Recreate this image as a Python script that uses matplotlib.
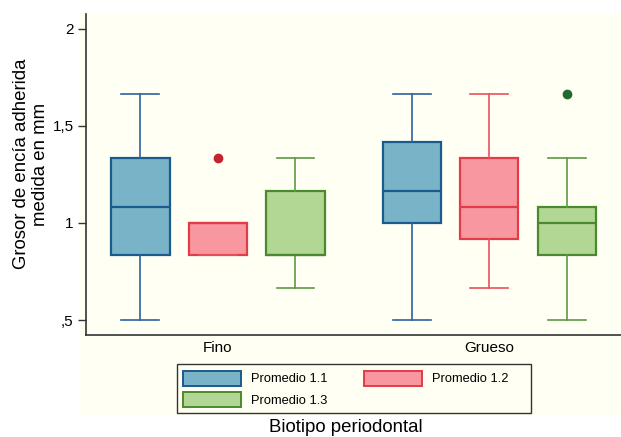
import matplotlib.pyplot as plt
from matplotlib.patches import Patch, Rectangle

plt.rcParams['font.family'] = ['Liberation Sans', 'DejaVu Sans']

groups = ['Fino', 'Grueso']
series = ['Promedio 1.1', 'Promedio 1.2', 'Promedio 1.3']

# box statistics, order: Fino 1.1, 1.2, 1.3, Grueso 1.1, 1.2, 1.3
whislo = [0.5, 0.833, 0.667, 0.5, 0.667, 0.5]
q1 = [0.833, 0.833, 0.833, 1.0, 0.917, 0.833]
med = [1.083, 1.0, 0.833, 1.167, 1.083, 1.0]
q3 = [1.333, 1.0, 1.167, 1.417, 1.333, 1.083]
whishi = [1.667, 1.0, 1.333, 1.667, 1.667, 1.333]
fliers = [[], [1.333], [], [], [], [1.667]]

face = ['#78b3c7', '#f8979f', '#b2d795']
edge = ['#1b5a8c', '#e23c48', '#4a8a2e']
whisk = ['#2e62a0', '#e8525c', '#5c9a44']
dotc = ['#1b5a8c', '#c4232c', '#1e6b2c']
cream = '#fffff3'

W, H = 621, 437
fig = plt.figure(figsize=(W / 100, H / 100), dpi=100)
fig.patches.append(Rectangle((80 / W, 1 - 415 / H), (W - 80) / W, (415 - 14) / H,
                             transform=fig.transFigure, facecolor=cream,
                             edgecolor='none', zorder=-5))
ax = fig.add_axes([86 / W, 1 - 335 / H, (W - 86) / W, (335 - 14) / H])
ax.set_facecolor(cream)

positions = [0, 1, 2, 3.5, 4.5, 5.5]
for i, pos in enumerate(positions):
    s = i % 3
    st = dict(whislo=whislo[i], q1=q1[i], med=med[i], q3=q3[i],
              whishi=whishi[i], fliers=fliers[i])
    ax.bxp([st], positions=[pos], widths=0.75, patch_artist=True,
           showfliers=True, manage_ticks=False,
           boxprops=dict(facecolor=face[s], edgecolor=edge[s], linewidth=1.6),
           medianprops=dict(color=edge[s], linewidth=1.6),
           whiskerprops=dict(color=whisk[s], linewidth=1.2),
           capprops=dict(color=whisk[s], linewidth=1.2),
           capwidths=0.49,
           flierprops=dict(marker='o', markersize=6, markerfacecolor=dotc[s],
                           markeredgecolor=dotc[s]))

ax.set_xlim(-0.703, 6.2)
ax.set_ylim(0.4227, 2.077)
ax.set_yticks([0.5, 1, 1.5, 2])
ax.set_yticklabels([',5', '1', '1,5', '2'])
ax.set_xticks([1, 4.5])
ax.set_xticklabels(groups)
ax.tick_params(axis='y', length=6, width=1, labelsize=11, color='#333333', pad=3)
ax.tick_params(axis='x', length=0, labelsize=11, pad=4)
for side in ['top', 'right']:
    ax.spines[side].set_visible(False)
for side in ['left', 'bottom']:
    ax.spines[side].set_color('#333333')
    ax.spines[side].set_linewidth(1.2)

fig.text(31 / W, 1 - 164 / H, 'Grosor de encía adherida\nmedida en mm', rotation=90,
         ha='center', va='center', fontsize=13.4, linespacing=1.2)
fig.text(345.5 / W, 1 - 428 / H, 'Biotipo periodontal', ha='center', va='center', fontsize=13.4)

# legend frame drawn separately so its size matches the original
fig.patches.append(Rectangle((177 / W, 1 - 413 / H), 354 / W, 49 / H,
                             transform=fig.transFigure, facecolor=cream,
                             edgecolor='#333333', linewidth=1.0, zorder=2))
handles = [Patch(facecolor=face[k], edgecolor=edge[k], linewidth=1.4) for k in range(3)]
order = [0, 2, 1]
leg = fig.legend([handles[k] for k in order], [series[k] for k in order],
                 loc='upper left', bbox_to_anchor=(178 / W, 1 - 366 / H),
                 borderaxespad=0, ncol=2, fontsize=9.3, frameon=False,
                 handlelength=4.5, handleheight=1.45, handletextpad=0.8,
                 columnspacing=2.8, borderpad=0.35, labelspacing=0.45)
leg.set_zorder(3)

fig.savefig('out.png', dpi=100, facecolor='white')
